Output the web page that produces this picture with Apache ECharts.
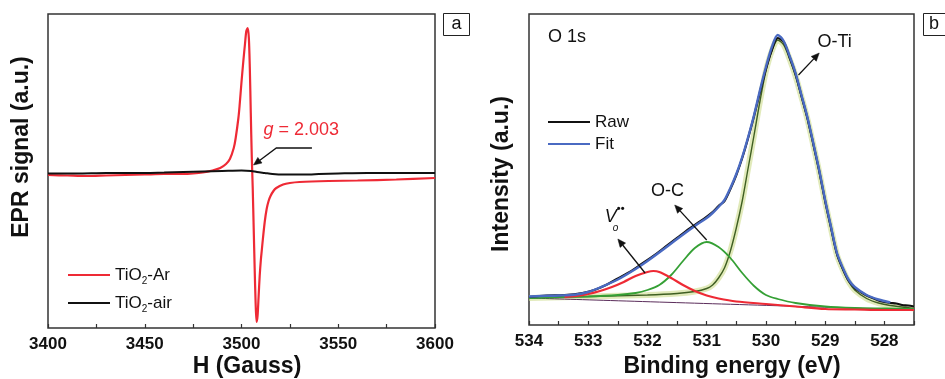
<!DOCTYPE html>
<html><head><meta charset="utf-8">
<script src="https://cdn.jsdelivr.net/npm/echarts@6/dist/echarts.min.js"></script>
<style>html,body{margin:0;padding:0;background:#fff}#c{width:945px;height:379px}</style>
</head><body><div id="c"></div>
<script>
const FONT = '"Liberation Sans", Arial, Helvetica, sans-serif';

// ---- Panel a: EPR ----
const arField = [3400,3410,3420,3430,3440,3450,3460,3470,3475,3480,3485,3489,3492,3494,3496,3497,3498.4,3499,3500,3501,3501.8,3502.5,3503.2,3503.8,3504.3,3504.8,3505.3,3505.8,3506.3,3506.8,3507.3,3507.8,3508.3,3508.8,3509.4,3510,3510.5,3511,3512,3513,3514,3515,3516.5,3518,3521.5,3525,3530,3545,3560,3580,3600];
const arSignal = [153,152.5,152,152.5,153,153.5,154,154,154.5,155.5,157.5,160,164,169,180,190,210,222,246,268,284,297,300,290,260,215,172,140,100,60,25,6,12,30,52,68,78,88,106,119,127,132,137,140,143.5,145,146,147,147.5,148.5,150];
const airField = [3400,3415,3430,3445,3460,3470,3480,3490,3500,3505,3508,3512,3516,3522,3528,3535,3540,3550,3565,3580,3600];
const airSignal = [154.5,154.5,155,155,155.5,156,156.5,157,157.5,157,156,155,154,153.5,153.5,153.5,154,154.5,155,155,155];
const eprTickStep = 25;

// ---- Panel b: XPS O 1s ----
const fitEnergy = [534,533.8,533.5,533.2,533.0,532.8,532.5,532.2,532.0,531.7,531.5,531.2,531.0,530.9,530.8,530.7,530.6,530.5,530.4,530.3,530.2,530.1,530.0,529.9,529.8,529.7,529.6,529.5,529.4,529.3,529.2,529.1,529.0,528.9,528.8,528.7,528.6,528.5,528.3,528.1,527.9];
const fitIntensity = [28.5,29,29.5,30.5,33,37.5,45.5,56,64,77,86,99,107,112,118,125,137,151,168,188,210,235,258,278,290,284,269,252,230,208,182,155,125,98,72,57,45,38,30,25.5,22.5];
const rawEnergy = [534,533.7,533.4,533.1,532.9,532.7,532.5,532.3,532.1,531.9,531.7,531.5,531.3,531.1,530.9,530.8,530.7,530.6,530.5,530.4,530.3,530.2,530.1,530.0,529.9,529.8,529.7,529.6,529.5,529.4,529.3,529.2,529.1,529.0,528.9,528.8,528.7,528.6,528.5,528.4,528.3,528.2,528.1,528.0,527.9,527.8,527.7,527.6,527.5];
const rawIntensity = [28,29.5,30,32,35,40,46.5,53,61,69,78,87,96,104,113,119,124,136,150,167,187,209,233,256,275,287,283,268,251,229,207,181,154,124,97,71,56,44,37,33,29.5,27,24.5,23,22,21.5,20,19.5,18.5];
const oTiEnergy = [534,533,532,531.5,531.2,531.0,530.9,530.8,530.7,530.6,530.5,530.4,530.3,530.2,530.1,530.0,529.9,529.8,529.7,529.6,529.5,529.4,529.3,529.2,529.1,529.0,528.9,528.8,528.7,528.6,528.5,528.3,528.1,527.9,527.5];
const oTiIntensity = [27,28.5,30,31.5,33.5,36.5,40,47,57,74,97,124,157,190,224,254,274,285,280,266,249,228,206,180,153,123,96,70,55,43,35,26.5,22,19.5,16.5];
const oCEnergy = [534,533,532.5,532.2,532,531.8,531.6,531.4,531.2,531.0,530.8,530.6,530.4,530.2,530.0,529.8,529.5,529.0,528.5,528.0,527.5];
const oCIntensity = [27,28.5,30,32,35,40,50,64,77,83,78,67,52,39,30,26,22,18.5,17,16.5,16];
const voEnergy = [533.4,533.2,533.0,532.8,532.6,532.4,532.2,532.0,531.9,531.8,531.6,531.4,531.2,531.0,530.8,530.5,530.0,529.5,529.0,528.5,528.0,527.5];
const voIntensity = [28,29,31,34,38,43,49,53,54,53,47,40,34,29.5,26.5,23.5,21,18.5,16,15.5,15,15];
const bgEnergy = [534,527.5];
const bgIntensity = [27,15];
const xpsTickStep = 0.5;

// annotation anchors (data coordinates)
const gLabelAt = [3511.4, 198];
const gArrowPath = [[3536.4,180],[3518,180],[3506.2,163]];
const o1sAt = [533.68, 288];
const oTiAt = [529.13, 283];
const oTiArrow = [[529.45,250],[529.1,272]];
const oCAt = [531.94, 134];
const oCArrow = [[531.0,85],[531.54,120]];
const voAt = [532.72, 108];
const voArrow = [[532.04,52],[532.5,86]];

const pairs = (xs, ys) => xs.map((x, i) => [x, ys[i]]);

const chart = echarts.init(document.getElementById('c'));
const tickCommon = {show:true, inside:true, length:4, lineStyle:{color:'#333', width:1.2}};
const labelCommon = {fontSize:17, fontWeight:'bold', color:'#111', fontFamily:FONT, margin:8, hideOverlap:false};
function line(name, xs, ys, color, width, xi, z) {
  return {type:'line', name, xAxisIndex:xi, yAxisIndex:xi, data:pairs(xs, ys), symbol:'none', showSymbol:false,
    color, lineStyle:{color, width}, smooth:0.3, z:z||2, silent:true};
}
const option = {
  animation:false,
  backgroundColor:'#fff',
  grid:[
    {left:48, right:510, top:14, bottom:51, show:true, borderColor:'#333', borderWidth:1.5},
    {left:529, right:31, top:14, bottom:54, show:true, borderColor:'#333', borderWidth:1.5}
  ],
  xAxis:[
    {type:'value', gridIndex:0, min:3400, max:3600, interval:eprTickStep,
     axisLine:{show:false}, axisTick:tickCommon, splitLine:{show:false},
     axisLabel:Object.assign({}, labelCommon, {formatter:v => (v % 50 === 0 ? String(v) : '')})},
    {type:'value', gridIndex:1, min:527.5, max:534, interval:xpsTickStep, inverse:true,
     axisLine:{show:false}, axisTick:tickCommon, splitLine:{show:false},
     axisLabel:Object.assign({}, labelCommon, {formatter:v => (Math.abs(v - Math.round(v)) < 1e-6 ? String(Math.round(v)) : '')})}
  ],
  yAxis:[
    {type:'value', gridIndex:0, min:0, max:314, show:false, splitLine:{show:false}},
    {type:'value', gridIndex:1, min:0, max:311, show:false, splitLine:{show:false}}
  ],
  legend:[
    {data:['TiO2-Ar','TiO2-air'], left:63, top:259, orient:'vertical', icon:'rect', itemWidth:42, itemHeight:2, itemGap:6,
     selectedMode:false,
     formatter:n => '{t|TiO}{s|2}{t|' + n.slice(4) + '}',
     textStyle:{fontSize:17, color:'#111', fontFamily:FONT,
       rich:{t:{fontSize:17, fontFamily:FONT, color:'#111', lineHeight:22},
             s:{fontSize:10, fontFamily:FONT, color:'#111', lineHeight:10, verticalAlign:'top', padding:[12,0,0,0]}}}},
    {data:['Raw','Fit'], left:543, top:107, orient:'vertical', icon:'rect', itemWidth:42, itemHeight:2, itemGap:2,
     selectedMode:false,
     textStyle:{fontSize:17, color:'#111', fontFamily:FONT, lineHeight:20}}
  ],
  series:[
    line('TiO2-Ar', arField, arSignal, '#ee2a35', 2.2, 0, 2),
    line('TiO2-air', airField, airSignal, '#111111', 2, 0, 3),
    line('Background', bgEnergy, bgIntensity, '#5b2d5b', 1, 1, 2),
    line('O-Ti glow', oTiEnergy, oTiIntensity, 'rgba(205,220,140,0.6)', 6, 1, 1),
    line('O-Ti', oTiEnergy, oTiIntensity, '#3f5f22', 1.4, 1, 3),
    line('O-C', oCEnergy, oCIntensity, '#35a035', 1.8, 1, 3),
    line('Vo', voEnergy, voIntensity, '#ee2a35', 2.2, 1, 3),
    line('Raw', rawEnergy, rawIntensity, '#111111', 2.2, 1, 4),
    line('Fit', fitEnergy, fitIntensity, '#4a6ac2', 2.4, 1, 5)
  ]
};
chart.setOption(option);

const P = (g, p) => chart.convertToPixel({gridIndex:g}, p);
function arrow(pts, color, w) {
  const n = pts.length, tip = pts[n-1], prev = pts[n-2];
  const dx = tip[0]-prev[0], dy = tip[1]-prev[1], L = Math.hypot(dx, dy);
  const ux = dx/L, uy = dy/L, hl = 8, hw = 3.5;
  const base = [tip[0]-ux*hl, tip[1]-uy*hl];
  const a = [base[0]-uy*hw, base[1]+ux*hw], b = [base[0]+uy*hw, base[1]-ux*hw];
  return [
    {type:'polyline', shape:{points:pts.slice(0, n-1).concat([base])}, style:{stroke:color, lineWidth:w, fill:null}, silent:true, z:10},
    {type:'polygon', shape:{points:[tip, a, b]}, style:{fill:color, stroke:color, lineWidth:0.5}, silent:true, z:10}
  ];
}
function txt(x, y, text, size, opts) {
  return Object.assign({type:'text', x, y, silent:true, z:10,
    style:Object.assign({text, fontSize:size, fontFamily:FONT, fill:'#111', align:'left', verticalAlign:'middle',
      textAlign:'left', textVerticalAlign:'middle'}, (opts && opts.style) || {})}, opts && opts.el || {});
}
const g = [];
// axis titles
g.push(txt(22, 147, 'EPR signal (a.u.)', 23, {style:{fontWeight:'bold', align:'center', textAlign:'center'}, el:{rotation:Math.PI/2}}));
g.push(txt(502, 174, 'Intensity (a.u.)', 23, {style:{fontWeight:'bold', align:'center', textAlign:'center'}, el:{rotation:Math.PI/2}}));
g.push(txt(247, 367, 'H (Gauss)', 23, {style:{fontWeight:'bold', align:'center', textAlign:'center'}}));
g.push(txt(732, 367, 'Binding energy (eV)', 23, {style:{fontWeight:'bold', align:'center', textAlign:'center'}}));
// panel letters
g.push({type:'rect', shape:{x:443.5, y:13.5, width:26, height:22}, style:{fill:'#fff', stroke:'#222', lineWidth:1}, silent:true, z:10});
g.push(txt(456.5, 24.5, 'a', 18, {style:{align:'center', textAlign:'center'}}));
g.push({type:'rect', shape:{x:923.5, y:13.5, width:26, height:22}, style:{fill:'#fff', stroke:'#222', lineWidth:1}, silent:true, z:10});
g.push(txt(934, 24.5, 'b', 18, {style:{align:'center', textAlign:'center'}}));
// g-factor annotation
const gp = P(0, gLabelAt);
g.push({type:'text', x:gp[0], y:gp[1], silent:true, z:10, style:{
  text:'{i|g}{n| = 2.003}', align:'left', verticalAlign:'middle', textAlign:'left', textVerticalAlign:'middle',
  rich:{i:{fontStyle:'italic', fontSize:18, fontFamily:FONT, fill:'#ee2a35', color:'#ee2a35'},
        n:{fontSize:18, fontFamily:FONT, fill:'#ee2a35', color:'#ee2a35'}}}});
g.push(...arrow(gArrowPath.map(p => P(0, p)), '#111', 1.3));
// XPS annotations
let p = P(1, o1sAt); g.push(txt(p[0], p[1], 'O 1s', 18));
p = P(1, oTiAt); g.push(txt(p[0], p[1], 'O-Ti', 18));
g.push(...arrow(oTiArrow.map(q => P(1, q)), '#111', 1.3));
p = P(1, oCAt); g.push(txt(p[0], p[1], 'O-C', 18));
g.push(...arrow(oCArrow.map(q => P(1, q)), '#111', 1.3));
p = P(1, voAt);
g.push(txt(p[0], p[1], 'V', 18, {style:{fontStyle:'italic'}}));
g.push(txt(p[0] + 8, p[1] + 11, 'o', 10, {style:{fontStyle:'italic'}}));
g.push(txt(p[0] + 12, p[1] - 8, '••', 11, {style:{fontWeight:'bold'}}));
g.push(...arrow(voArrow.map(q => P(1, q)), '#111', 1.3));
chart.setOption({graphic:{elements:g}});
</script>
</body></html>
